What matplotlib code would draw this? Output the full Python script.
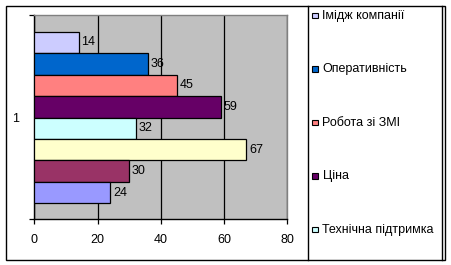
import matplotlib
matplotlib.use("Agg")
import matplotlib.pyplot as plt
from matplotlib.patches import Rectangle
from matplotlib.lines import Line2D

plt.rcParams['font.family'] = ['Liberation Sans', 'DejaVu Sans']

# Data (top to bottom as drawn)
values = [14, 36, 45, 59, 32, 67, 30, 24]
colors = ['#CCCCFF', '#0066CC', '#FF8080', '#660066', '#CCFFFF', '#FFFFCC', '#993366', '#9999FF']
legend_labels = ['Імідж компанії', 'Оперативність', 'Робота зі ЗМІ', 'Ціна', 'Технічна підтримка']
category = '1'
xticks = [0, 20, 40, 60, 80]

W, H = 451, 265
fig = plt.figure(figsize=(W / 100, H / 100), dpi=100)
fig.patch.set_facecolor('white')

def fx(x):
    return x / W

def fy(y):
    return 1 - y / H

# plot area
left, right, top, bottom = 34.3, 287.3, 15.0, 219.3
ax = fig.add_axes([fx(left), fy(bottom), fx(right - left), (bottom - top) / H])
ax.set_facecolor('#C0C0C0')

n = len(values)
ypos = [n - 1 - i for i in range(n)]
bars = ax.barh(ypos, values, height=1.0, color=colors, edgecolor='black', linewidth=0.9, zorder=3)
ax.bar_label(bars, labels=[str(v) for v in values], padding=2, fontsize=9, zorder=4)

ax.set_xlim(0, 80)
ax.set_ylim(-1.246, n - 1 + 0.78 + 0.5)
ax.set_xticks(xticks)
ax.set_xticklabels([str(t) for t in xticks], fontsize=9)
ax.xaxis.grid(True, color='black', linewidth=0.9, zorder=1)
ax.set_axisbelow(True)
ax.tick_params(axis='x', direction='out', length=3.5, width=0.9, pad=7)

y0, y1 = ax.get_ylim()
ax.set_yticks([y0, y1])
ax.set_yticklabels(['', ''])
ax.set_yticks([(n - 1) / 2], minor=True)
ax.set_yticklabels([category], minor=True, fontsize=9)
ax.tick_params(axis='y', which='major', direction='out', length=3.5, width=0.9)
ax.tick_params(axis='y', which='minor', length=0, pad=11)

for s in ['top', 'right']:
    ax.spines[s].set_color('#808080')
    ax.spines[s].set_linewidth(1.0)
for s in ['left', 'bottom']:
    ax.spines[s].set_color('black')
    ax.spines[s].set_linewidth(1.0)

# outer frame
fig.add_artist(Rectangle((fx(5.5), fy(260)), fx(445 - 5.5), (260 - 5.5) / H,
                         transform=fig.transFigure, fill=False, edgecolor='black', linewidth=1.0))
# legend box (clipped vertical edges)
for xx in [307.7, 441.5]:
    fig.add_artist(Line2D([fx(xx), fx(xx)], [fy(5.5), fy(260)], transform=fig.transFigure,
                          color='black', linewidth=1.0))

# legend entries
ys = [15.5 + 53.5 * i for i in range(len(legend_labels))]
for lab, col, yy in zip(legend_labels, colors, ys):
    fig.add_artist(Rectangle((fx(312), fy(yy + 2.8)), fx(5.5), 5.5 / H,
                             transform=fig.transFigure, facecolor=col, edgecolor='black', linewidth=0.8))
    fig.text(fx(322.5), fy(yy), lab, fontsize=9.0, va='center', ha='left')

fig.savefig('out.png', dpi=100)
